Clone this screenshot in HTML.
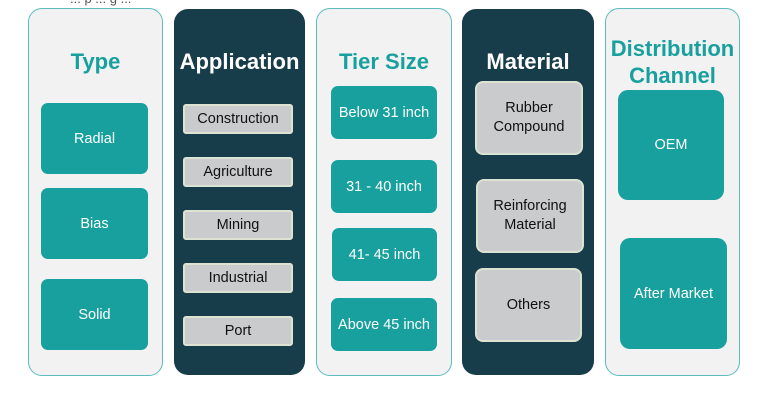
<!DOCTYPE html>
<html><head><style>
body{margin:0;width:768px;height:411px;background:#fff;position:relative;overflow:hidden;font-family:"Liberation Sans",sans-serif}
div{position:absolute;box-sizing:border-box}
.lp{background:#f2f2f2;border:1.5px solid #5bbcbc;border-radius:14px}
.dp{background:#173c4a;border-radius:14px}
.t{display:flex;align-items:center;justify-content:center;text-align:center;font-weight:bold;font-size:22px;line-height:27px}
.tt{color:#17a09e}.tw{color:#fff}
.b{background:#17a09e;border-radius:7px;color:#fff;display:flex;align-items:center;justify-content:center;text-align:center;font-size:14.5px}
.g{background:#c9cbcc;border:2px solid #dde3d3;color:#111;display:flex;align-items:center;justify-content:center;text-align:center;font-size:14.5px;line-height:19px}
</style></head><body>
<div style="left:70px;top:-9px;font-size:13px;color:#555">... p ... g ...</div>
<div class="lp" style="left:28px;top:8px;width:135px;height:368px"></div>
<div class="dp" style="left:174px;top:9px;width:131px;height:366px"></div>
<div class="lp" style="left:316px;top:8px;width:136px;height:368px"></div>
<div class="dp" style="left:462px;top:9px;width:132px;height:366px"></div>
<div class="lp" style="left:605px;top:8px;width:135px;height:368px"></div>

<div class="t tt" style="left:28px;top:48px;width:135px">Type</div>
<div class="t tw" style="left:174px;top:48px;width:131px">Application</div>
<div class="t tt" style="left:316px;top:48px;width:136px">Tier Size</div>
<div class="t tw" style="left:462px;top:48px;width:132px">Material</div>
<div class="t tt" style="left:605px;top:35px;width:135px">Distribution<br>Channel</div>

<div class="b" style="left:41px;top:103px;width:107px;height:71px">Radial</div>
<div class="b" style="left:41px;top:188px;width:107px;height:71px">Bias</div>
<div class="b" style="left:41px;top:279px;width:107px;height:71px">Solid</div>

<div class="g" style="left:183px;top:104px;width:110px;height:30px;border-radius:3px">Construction</div>
<div class="g" style="left:183px;top:157px;width:110px;height:30px;border-radius:3px">Agriculture</div>
<div class="g" style="left:183px;top:210px;width:110px;height:30px;border-radius:3px">Mining</div>
<div class="g" style="left:183px;top:263px;width:110px;height:30px;border-radius:3px">Industrial</div>
<div class="g" style="left:183px;top:316px;width:110px;height:30px;border-radius:3px">Port</div>

<div class="b" style="left:331px;top:86px;width:106px;height:53px">Below 31 inch</div>
<div class="b" style="left:331px;top:160px;width:106px;height:53px">31 - 40 inch</div>
<div class="b" style="left:332px;top:228px;width:105px;height:53px">41- 45 inch</div>
<div class="b" style="left:331px;top:298px;width:106px;height:53px">Above 45 inch</div>

<div class="g" style="left:475px;top:81px;width:108px;height:74px;border-radius:8px">Rubber<br>Compound</div>
<div class="g" style="left:476px;top:179px;width:108px;height:74px;border-radius:8px">Reinforcing<br>Material</div>
<div class="g" style="left:475px;top:268px;width:107px;height:74px;border-radius:8px">Others</div>

<div class="b" style="left:618px;top:90px;width:106px;height:110px;border-radius:10px">OEM</div>
<div class="b" style="left:620px;top:238px;width:107px;height:111px;border-radius:10px">After Market</div>
</body></html>
